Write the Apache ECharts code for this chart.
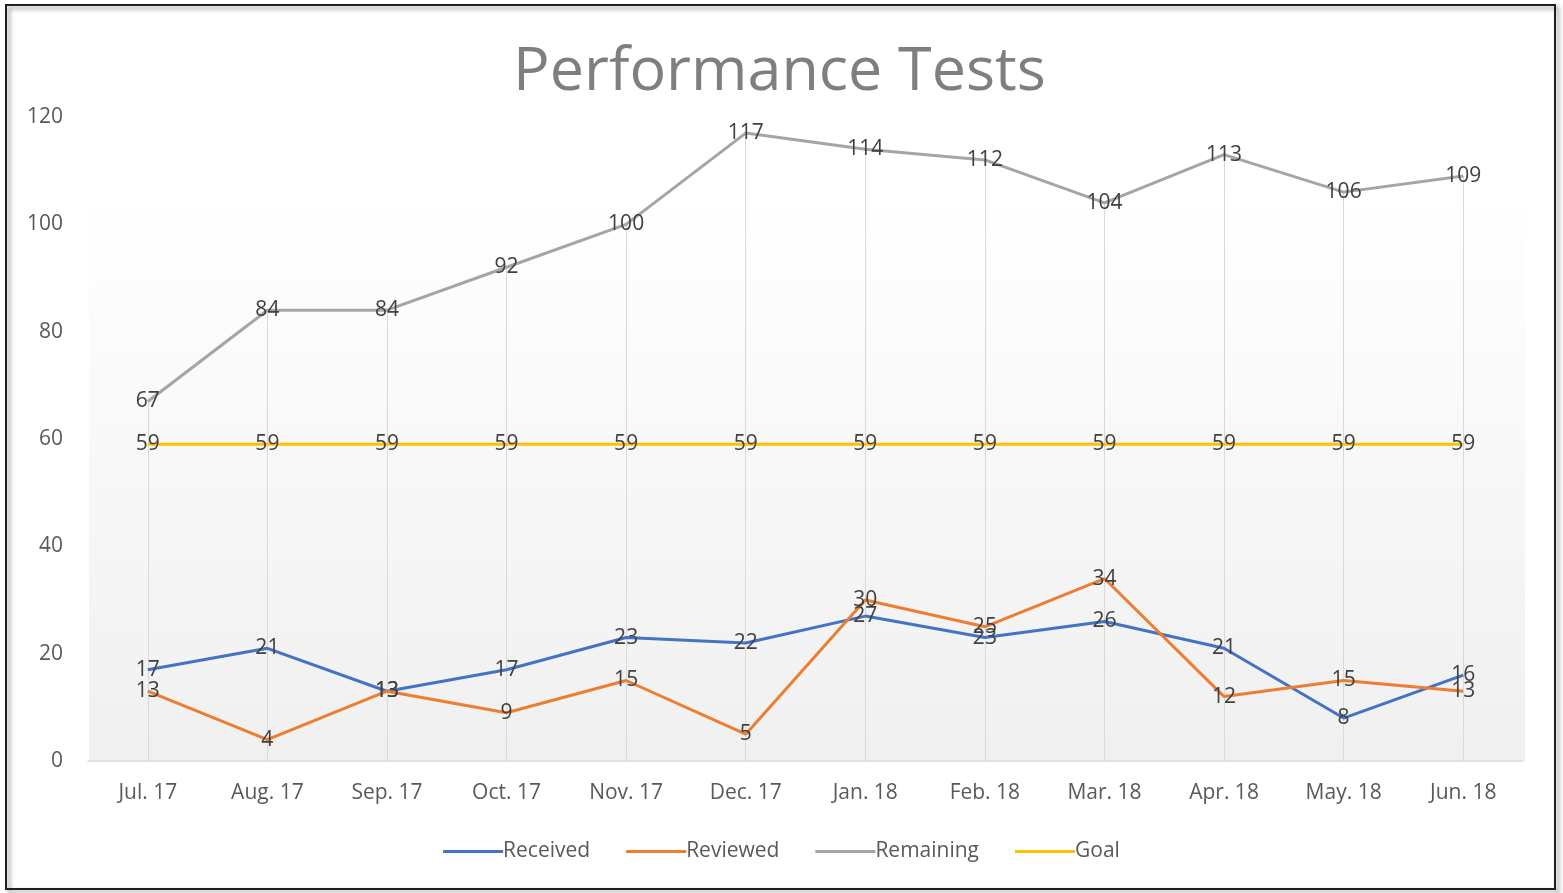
<!DOCTYPE html>
<html>
<head>
<meta charset="utf-8">
<script src="https://cdn.jsdelivr.net/npm/echarts@6/dist/echarts.min.js"></script>
<style>
html,body{margin:0;padding:0;background:#fff;}
#c{width:1563px;height:893px;}
</style>
</head>
<body>
<div id="c"></div>
<script>
const categories = ['Jul. 17','Aug. 17','Sep. 17','Oct. 17','Nov. 17','Dec. 17','Jan. 18','Feb. 18','Mar. 18','Apr. 18','May. 18','Jun. 18'];
const received = [17,21,13,17,23,22,27,23,26,21,8,16];
const reviewed = [13,4,13,9,15,5,30,25,34,12,15,13];
const remaining = [67,84,84,92,100,117,114,112,104,113,106,109];
const goal = [59,59,59,59,59,59,59,59,59,59,59,59];
const yTicks = [0,20,40,60,80,100,120];

const FONT = '"Open Sans", "Noto Sans", sans-serif';
const chart = echarts.init(document.getElementById('c'));

const dropLines = remaining.map((v,i)=>[{coord:[i,0]},{coord:[i,Math.max(v,received[i],reviewed[i],goal[i])]}]);

const labelStyle = {show:true, position:'inside', color:'#404040', fontSize:21, fontFamily:FONT};

function lineSeries(name, data, color, extra){
  return Object.assign({
    name, type:'line', data, symbol:'circle', showSymbol:true, symbolSize:0.01,
    lineStyle:{color, width:3}, itemStyle:{color},
    label:labelStyle, z:3, animation:false
  }, extra||{});
}

chart.setOption({
  animation:false,
  backgroundColor:'#ffffff',
  title:{text:'Performance Tests', left:508, top:37,
    textStyle:{color:'#7f7f7f', fontSize:61, fontWeight:'normal', fontFamily:FONT}},
  graphic:[
    {type:'rect', z:-5, silent:true, shape:{x:89,y:188,width:1436,height:573},
      style:{fill:new echarts.graphic.LinearGradient(0,0,0,1,[{offset:0,color:'#ffffff'},{offset:1,color:'#f0f0f0'}])}},
    {type:'rect', z:100, silent:true, shape:{x:6,y:5,width:1549,height:884},
      style:{fill:null, stroke:'#1f1f1f', lineWidth:2, shadowBlur:4, shadowOffsetX:3, shadowOffsetY:3, shadowColor:'rgba(0,0,0,0.45)'}}
  ],
  grid:{left:88, right:40, top:117, bottom:132, containLabel:false},
  legend:{bottom:26, left:'center', itemWidth:60, itemHeight:3, itemGap:36,
    icon:'rect',
    textStyle:{color:'#595959', fontSize:21, fontFamily:FONT, padding:[0,0,0,-5]},
    data:['Received','Reviewed','Remaining','Goal']},
  xAxis:{type:'category', data:categories, boundaryGap:true,
    axisLine:{lineStyle:{color:'#d9d9d9', width:1.5}},
    axisTick:{show:false},
    axisLabel:{color:'#595959', fontSize:21, fontFamily:FONT, margin:22},
    splitLine:{show:false}},
  yAxis:{type:'value', min:yTicks[0], max:yTicks[yTicks.length-1], interval:20,
    axisLine:{show:false}, axisTick:{show:false}, splitLine:{show:false},
    axisLabel:{color:'#595959', fontSize:21, fontFamily:FONT, margin:25}},
  series:[
    lineSeries('Received', received, '#4472C4', {
      markLine:{silent:true, symbol:'none', label:{show:false}, animation:false,
        lineStyle:{color:'#d9d9d9', width:1, type:'solid'}, data:dropLines, z:1}
    }),
    lineSeries('Reviewed', reviewed, '#ED7D31'),
    lineSeries('Remaining', remaining, '#A5A5A5'),
    lineSeries('Goal', goal, '#FFC000')
  ]
});
</script>
</body>
</html>
